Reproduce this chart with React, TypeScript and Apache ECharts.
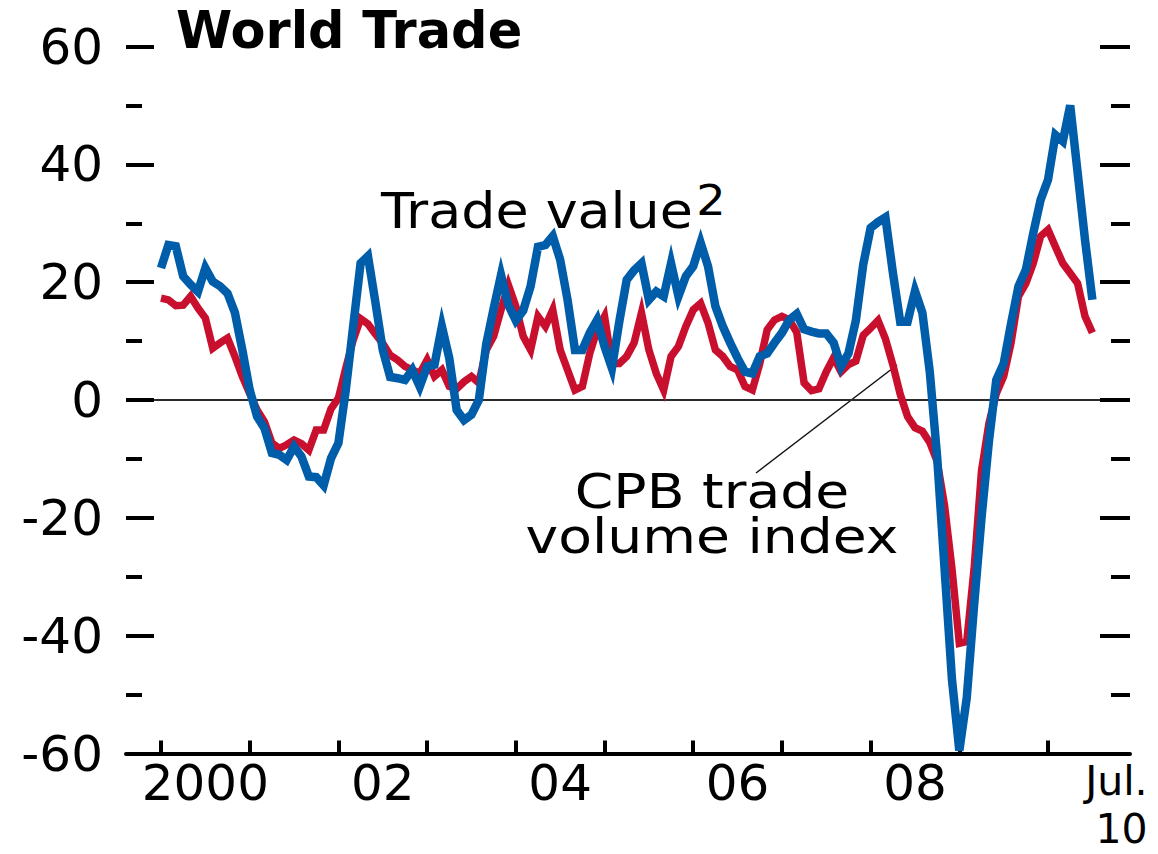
import React, { useEffect, useRef } from 'react';
import * as echarts from 'echarts';

// ---- Data (monthly, Jan 2000 – Jul 2010, % change year on year) ----
const startYear = 2000;

const tradeValue = [
  22.4, 26.3, 26.1, 21, 19.6, 18.4, 22.4, 20.1, 19.3, 18.1,
  14.8, 8.5, 1.7, -2.8, -4.8, -9, -9.3, -10.2, -7.9, -9.6,
  -13, -13.1, -14.5, -9.9, -7.3, 1.7, 12.5, 23.2, 24.4, 16.6,
  8.5, 3.9, 3.7, 3.4, 5.1, 2.3, 5.7, 6, 12.5, 7.1,
  -1.7, -3.4, -2.5, 0, 9.5, 15.5, 21.2, 16.1, 13.5, 15.2,
  19.3, 26, 26.3, 27.8, 23.8, 17, 8.5, 8.5, 11.4, 13.6,
  9.1, 5.4, 13.3, 20.4, 22, 23.2, 17, 18.4, 17.6, 23.2,
  17.6, 21, 22.7, 26.7, 22.7, 15.9, 12.5, 9.7, 7.1, 4.8,
  4.5, 7.4, 7.9, 9.7, 11.4, 13.6, 14.6, 12, 11.6, 11.3,
  11.3, 9.7, 5.7, 7.9, 13.5, 23, 29.2, 30.2, 31, 21.7,
  13.3, 13.3, 18.5, 14.8, 4.8, -9.7, -28.6, -47.4, -59.5, -50.6,
  -34.8, -20, -7, 3.4, 6.2, 13, 19.3, 22.1, 28.3, 34,
  37.4, 45, 43.9, 50, 38.6, 27.2, 17,
];

const cpbVolume = [
  17.3, 17, 16, 16.1, 17.6, 15.6, 13.9, 8.8, 9.7, 10.5,
  7.4, 4, 1.1, -1.7, -3.7, -7.3, -8.2, -7.6, -6.8, -7.4,
  -8.5, -5.1, -5.1, -1.5, 0.3, 5.4, 10.2, 13.8, 12.9, 11.2,
  9.6, 7.6, 6.8, 5.7, 5.1, 4.5, 6.8, 4, 5.1, 2.3,
  1.9, 3.1, 4, 2.9, 8.5, 10.8, 15.3, 19.5, 15.9, 10.8,
  8.5, 14.2, 12.5, 15.3, 8.5, 5.1, 1.7, 2.3, 7.9, 11.9,
  14.2, 6.2, 6.2, 7.4, 9.7, 14.8, 8.5, 4.5, 1.7, 7.4,
  9.1, 12.5, 15.3, 16.4, 13.1, 8.5, 7.4, 5.7, 5.1, 2.3,
  1.7, 6.2, 11.9, 13.6, 14.2, 13.6, 11.5, 2.9, 1.6, 1.9,
  4.8, 7.2, 4.8, 6, 6.6, 11, 12.2, 13.5, 10.4, 6,
  1, -2.8, -4.7, -5.3, -7.2, -10.4, -17.9, -28.6, -41.3, -41,
  -28.6, -12, -4, 1.1, 4, 9.7, 17.6, 19.8, 23.2, 27.8,
  28.9, 26, 23.2, 21.5, 19.8, 14.2, 11.4,
];

const yearTicks = [2000, 2001, 2002, 2003, 2004, 2005, 2006, 2007, 2008, 2009, 2010];
const yearLabelPositions = [2000.5, 2002.5, 2004.5, 2006.5, 2008.5, 2010.5];
const yearLabels = ['2000', '02', '04', '06', '08', 'Jul.\n10'];

const titleText = 'World Trade';
const tradeValueLabel = 'Trade value';
const tradeValueNote = '2';
const cpbLabel = 'CPB trade\nvolume index';

// ---- Style ----
const FONT = '"DejaVu Sans", "Liberation Sans", sans-serif';
const BLUE = '#005DAA';
const RED = '#C8102E';
const X_MIN = 1999.6054;
const X_MAX = 2010.924;

const monthX = (i: number) => startYear + i / 12;

export default function App() {
  const ref = useRef<HTMLDivElement>(null);

  useEffect(() => {
    if (!ref.current) return;
    const chart = echarts.init(ref.current, undefined, { renderer: 'svg' });

    const yBase = {
      type: 'value',
      min: -60,
      max: 60,
      axisLine: { show: false },
      splitLine: { show: false },
      axisLabel: { show: false },
    };

    const option: any = {
      animation: false,
      backgroundColor: '#ffffff',
      title: {
        text: titleText,
        left: 176,
        top: 4.5,
        padding: 0,
        textStyle: {
          fontFamily: FONT,
          fontSize: 51,
          fontWeight: 'bold',
          color: '#000',
          lineHeight: 51,
        },
      },
      grid: {
        left: 126,
        right: 28,
        top: 46.5,
        bottom: 100.5,
        containLabel: false,
        outerBoundsMode: 'none',
      },
      xAxis: {
        type: 'value',
        min: X_MIN,
        max: X_MAX,
        axisLine: { show: true, onZero: false, lineStyle: { color: '#000', width: 4 } },
        axisTick: {
          show: true,
          inside: true,
          length: 13,
          customValues: yearTicks,
          lineStyle: { color: '#000', width: 4 },
        },
        axisLabel: {
          show: true,
          customValues: yearLabelPositions,
          margin: 3,
          fontFamily: FONT,
          fontSize: 50,
          lineHeight: 52,
          color: '#000',
          formatter: (v: number) => {
            const i = yearLabelPositions.findIndex((p) => Math.abs(p - v) < 1e-6);
            const t = i >= 0 ? yearLabels[i] : '';
            if (t.indexOf('\n') >= 0) {
              const [a, b] = t.split('\n');
              return `{j|${a}}\n{t|${b}}`;
            }
            return t;
          },
          rich: {
            j: {
              fontFamily: FONT,
              fontSize: 41,
              lineHeight: 48,
              color: '#000',
              align: 'right',
              padding: [0, 0, 0, 48],
            },
            t: {
              fontFamily: FONT,
              fontSize: 41,
              lineHeight: 48,
              color: '#000',
              align: 'right',
            },
          },
        },
        splitLine: { show: false },
      },
      yAxis: [
        {
          ...yBase,
          position: 'left',
          interval: 20,
          axisTick: { show: true, inside: true, length: 28, lineStyle: { color: '#000', width: 4 } },
          axisLabel: { show: true, margin: 23, fontFamily: FONT, fontSize: 50, color: '#000' },
          splitLine: {
            show: true,
            showMinLine: true,
            showMaxLine: true,
            lineStyle: {
              color: ['transparent', 'transparent', 'transparent', '#2b2b2b', 'transparent', 'transparent', 'transparent'],
              width: 2,
            },
          },
        },
        {
          ...yBase,
          position: 'left',
          interval: 10,
          axisTick: { show: true, inside: true, length: 16, lineStyle: { color: '#000', width: 4 } },
        },
        {
          ...yBase,
          position: 'right',
          interval: 20,
          axisTick: { show: true, inside: true, length: 30, lineStyle: { color: '#000', width: 4 } },
        },
        {
          ...yBase,
          position: 'right',
          interval: 10,
          axisTick: { show: true, inside: true, length: 19, lineStyle: { color: '#000', width: 4 } },
        },
      ],
      series: [
        {
          type: 'line',
          name: 'CPB trade volume index',
          xAxisIndex: 0,
          yAxisIndex: 0,
          data: cpbVolume.map((v, i) => [monthX(i), v]),
          symbol: 'none',
          showSymbol: false,
          lineStyle: { color: RED, width: 7.5, join: 'miter', miterLimit: 6 },
          z: 3,
        },
        {
          type: 'line',
          name: 'Trade value',
          xAxisIndex: 0,
          yAxisIndex: 0,
          data: tradeValue.map((v, i) => [monthX(i), v]),
          symbol: 'none',
          showSymbol: false,
          lineStyle: { color: BLUE, width: 8.5, join: 'miter', miterLimit: 6 },
          z: 4,
        },
      ],
      graphic: [
        {
          type: 'text',
          x: 381,
          y: 210.5,
          scaleX: 1.1,
          style: {
            text: `{a|${tradeValueLabel}}{s|${tradeValueNote}}`,
            align: 'left',
            verticalAlign: 'middle',
            fill: '#000',
            rich: {
              a: { fontFamily: FONT, fontSize: 49, fill: '#000' },
              s: { fontFamily: FONT, fontSize: 42, fill: '#000', padding: [0, 0, 20, 3] },
            },
          },
        },
        {
          type: 'text',
          x: 712,
          y: 514,
          scaleX: 1.15,
          style: {
            text: cpbLabel,
            fontFamily: FONT,
            fontSize: 48,
            lineHeight: 45,
            align: 'center',
            verticalAlign: 'middle',
            fill: '#000',
          },
        },
        {
          type: 'line',
          shape: { x1: 897, y1: 365, x2: 756, y2: 473 },
          style: { stroke: '#111', lineWidth: 1.5 },
        },
      ],
    };

    chart.setOption(option);
    return () => {
      chart.dispose();
    };
  }, []);

  return (
    <div
      ref={ref}
      style={{ position: 'fixed', left: 0, top: 0, width: 1158, height: 854, background: '#fff' }}
    />
  );
}
